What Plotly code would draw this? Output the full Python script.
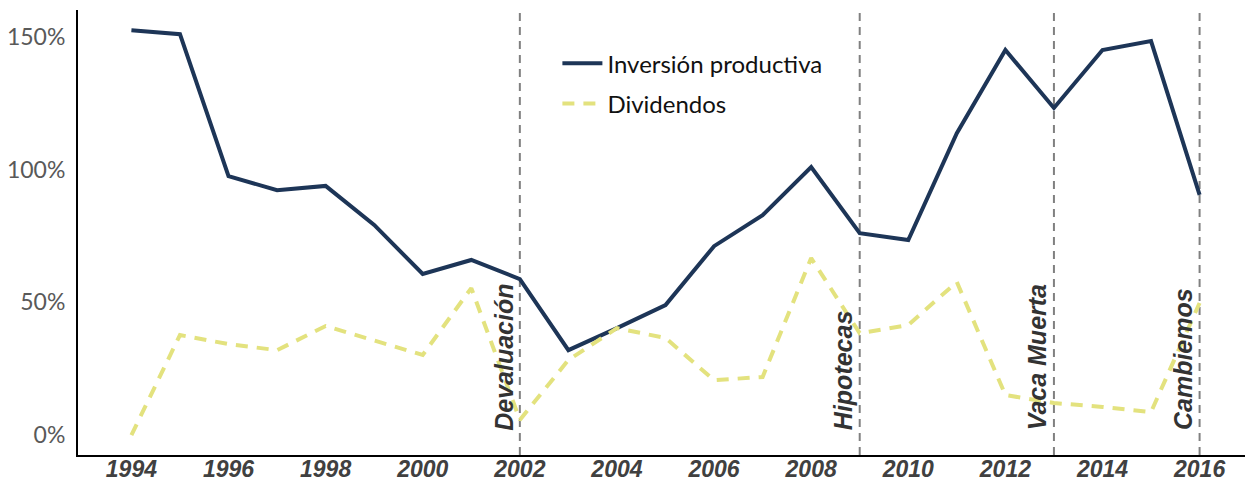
import plotly.graph_objects as go

years = list(range(1994, 2017))
inversion = [152.6, 151.1, 97.6, 92.3, 93.9, 79.2, 60.7, 66.0, 58.8, 32.0, 40.3, 49.0,
             71.2, 82.9, 101.0, 76.1, 73.5, 113.8, 145.1, 123.3, 145.1, 148.5, 90.5]
dividendos = [0.0, 37.7, 34.3, 32.0, 41.1, 35.8, 30.2, 55.4, 5.7, 28.3, 40.3, 36.6,
              20.7, 21.9, 66.7, 38.4, 41.5, 57.7, 15.1, 12.1, 10.6, 8.7, 49.8]
event_years = [2002, 2009, 2013, 2016]
event_labels = ["Devaluación", "Hipotecas", "Vaca Muerta", "Cambiemos"]
x_ticks = list(range(1994, 2017, 2))
y_ticks = [0, 50, 100, 150]

fig = go.Figure()
fig.add_trace(go.Scatter(x=years, y=inversion, mode="lines", name="Inversión productiva",
                         line=dict(color="#1d3557", width=4), legendgroup="a"))
fig.add_trace(go.Scatter(x=years, y=dividendos, mode="lines", name="Dividendos",
                         line=dict(color="#e3e27e", width=4, dash="12px,9px"), legendgroup="b"))

for yr, lab in zip(event_years, event_labels):
    fig.add_shape(type="line", x0=yr, x1=yr, xref="x", yref="paper", y0=0, y1=0.995,
                  line=dict(color="#808080", width=2, dash="8px,6px"), layer="below")
    fig.add_annotation(x=yr, y=1.0, xref="x", yref="y", text=lab, textangle=-90,
                       showarrow=False, xanchor="right", yanchor="bottom", xshift=0,
                       font=dict(family="Liberation Sans", size=25, color="#333333",
                                 weight="bold", style="italic"))

fig.update_layout(
    width=1245, height=480,
    margin=dict(l=70, r=0, t=2, b=33),
    plot_bgcolor="white", paper_bgcolor="white",
    showlegend=True,
    legend=dict(x=0.408, y=0.93, xanchor="left", yanchor="top", bgcolor="rgba(0,0,0,0)",
                font=dict(family="Lato", size=24, color="#111111"), tracegroupgap=6,
                itemwidth=40),
    xaxis=dict(range=[1992.9, 2017.1], tickvals=x_ticks, ticktext=[str(t) for t in x_ticks],
               showgrid=False, zeroline=False, showline=True, linecolor="black", linewidth=2,
               ticks="", automargin=False, ticklabelstandoff=-8,
               tickfont=dict(family="Liberation Sans", size=23, color="#404040",
                             weight="bold", style="italic")),
    yaxis=dict(range=[-7.5, 160.2], tickvals=y_ticks, ticktext=[f"{t}%" for t in y_ticks],
               showgrid=False, zeroline=False, showline=True, linecolor="black", linewidth=2,
               ticks="", ticklabelstandoff=6, automargin=False,
               tickfont=dict(family="Lato", size=23, color="#595959")),
)

fig.write_html("out.html")
